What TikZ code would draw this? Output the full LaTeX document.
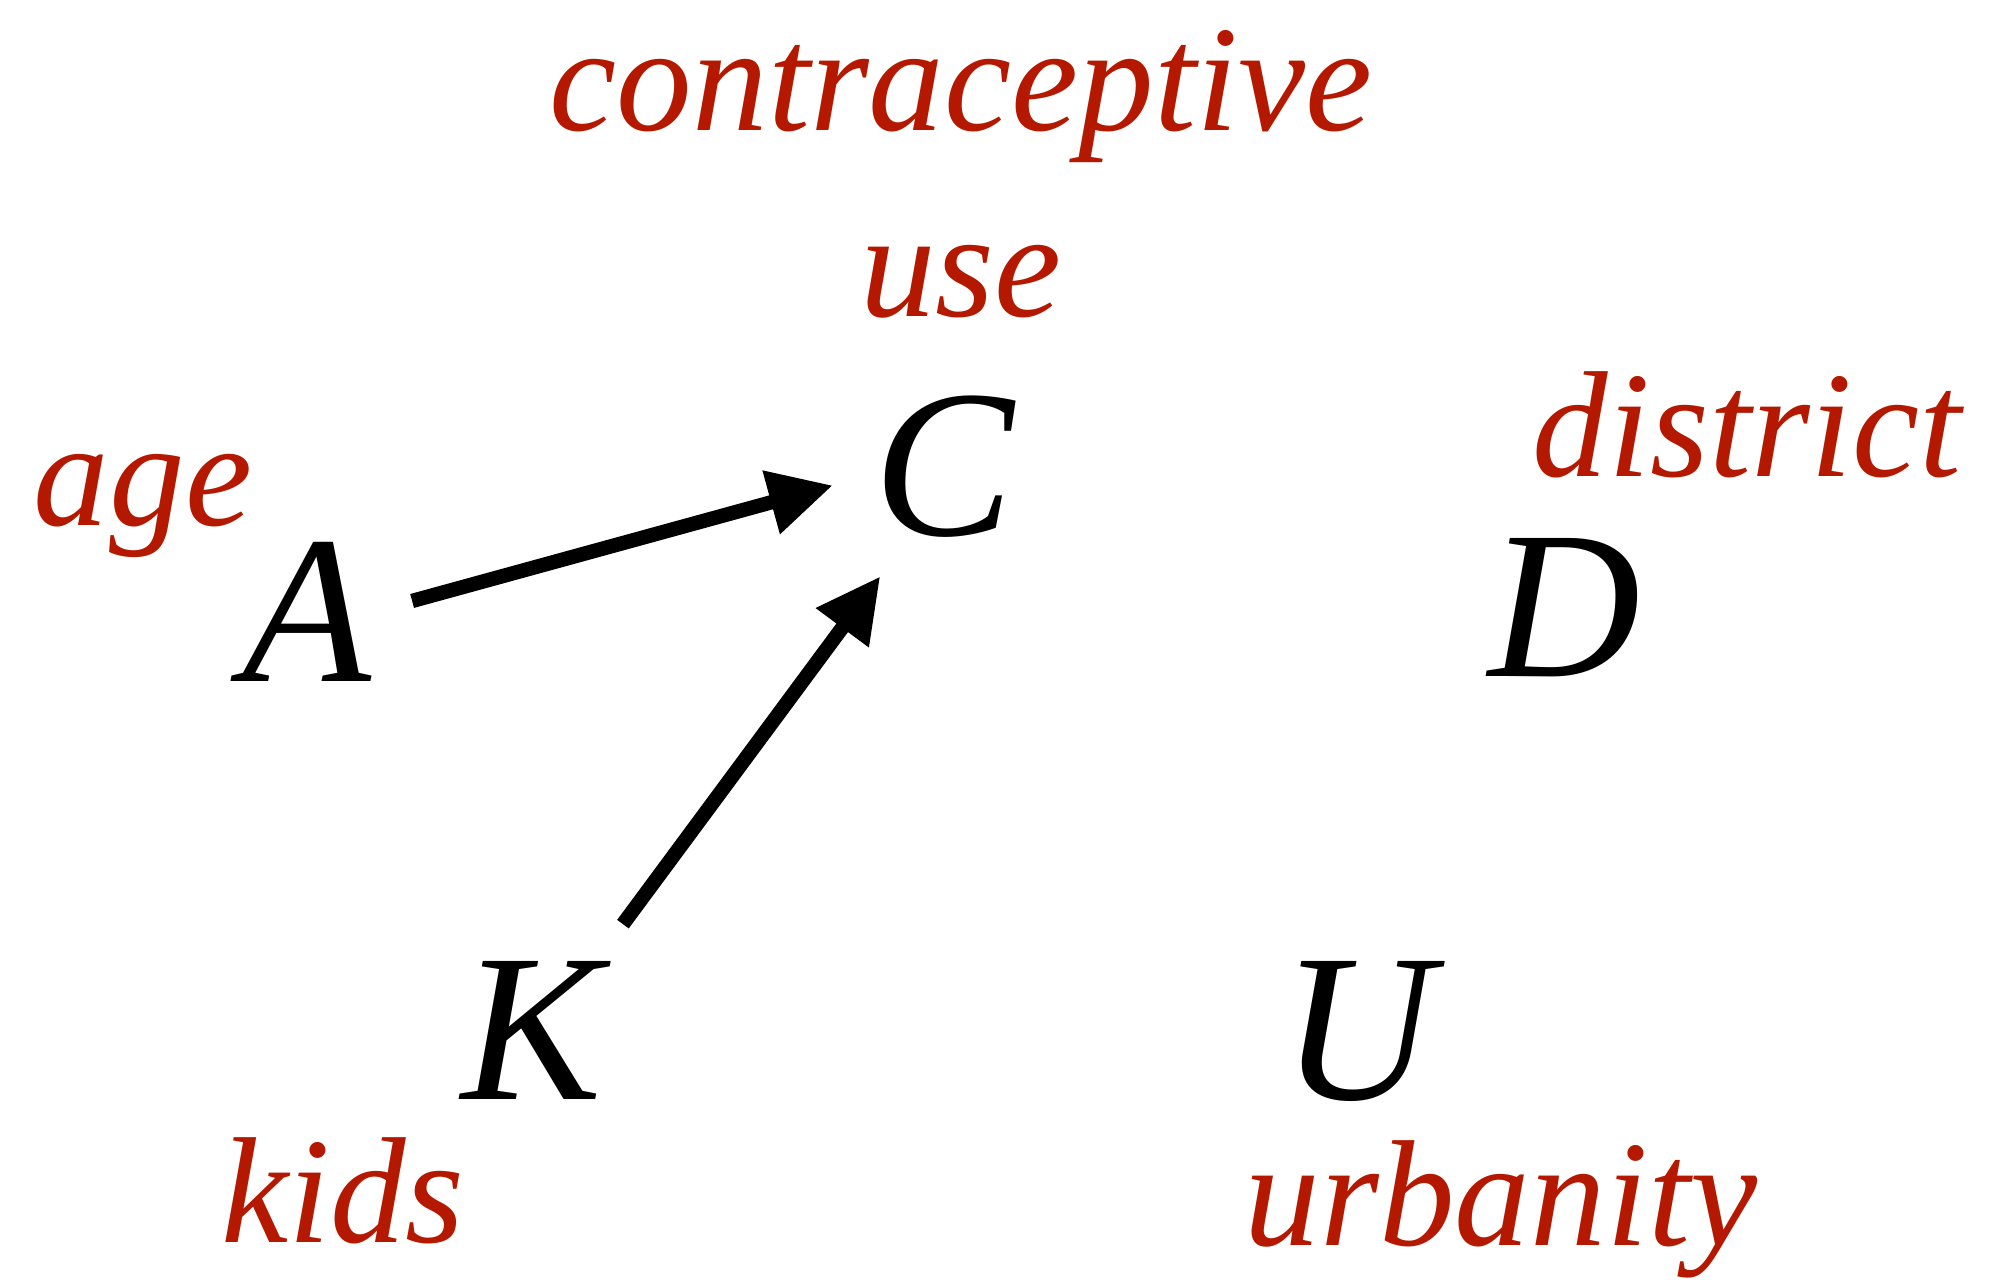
\documentclass[tikz,border=0pt]{standalone}
\usepackage{fontspec}
\setmainfont{Liberation Serif}
\usepackage{tikz}
\usetikzlibrary{positioning, arrows.meta}
\usepackage{xcolor}
\definecolor{labelred}{RGB}{180,25,0}

\tikzset{
  var/.style={circle, minimum size=2.1cm, inner sep=0pt, font=\fontsize{60}{60}\selectfont\itshape},
  lbl/.style={inner sep=0pt, text=labelred, font=\fontsize{43}{43}\selectfont\itshape},
  causal/.style={-{Triangle[length=0.64cm, width=0.62cm]}, line width=4.1pt}
}

\begin{document}
\begin{tikzpicture}[on grid, auto]
   \useasboundingbox (0,0) rectangle (20.1,12.86);
   % variables
   \node[var] (A) at (3.07,6.74) {A};
   \node[var] (C) at (9.44,8.19) {C};
   \node[var] (D) at (15.65,6.78) {D};
   \node[var] (K) at (5.32,2.56) {K};
   \node[var] (U) at (13.58,2.55) {U};

   % labels
   \node[lbl] (use) [above=1.85cm of C, xshift=0.17cm] {use};
   \node[lbl] (contra) [above=1.85cm of use] {contraceptive};
   \node[lbl] (age) [above left=1.06cm and 1.64cm of A] {age};
   \node[lbl] (district) [above right=1.83cm and 1.82cm of D] {district};
   \node[lbl] (kids) [below left=1.61cm and 1.89cm of K] {kids};
   \node[lbl] (urban) [below right=1.78cm and 1.43cm of U] {urbanity};

   \path[causal]
    (A.6) edge [shorten >=0.07cm] (C.189)
    (K.48) edge [shorten <=0.34cm, shorten >=0.21cm] (C.241)
    ;
\end{tikzpicture}
\end{document}
